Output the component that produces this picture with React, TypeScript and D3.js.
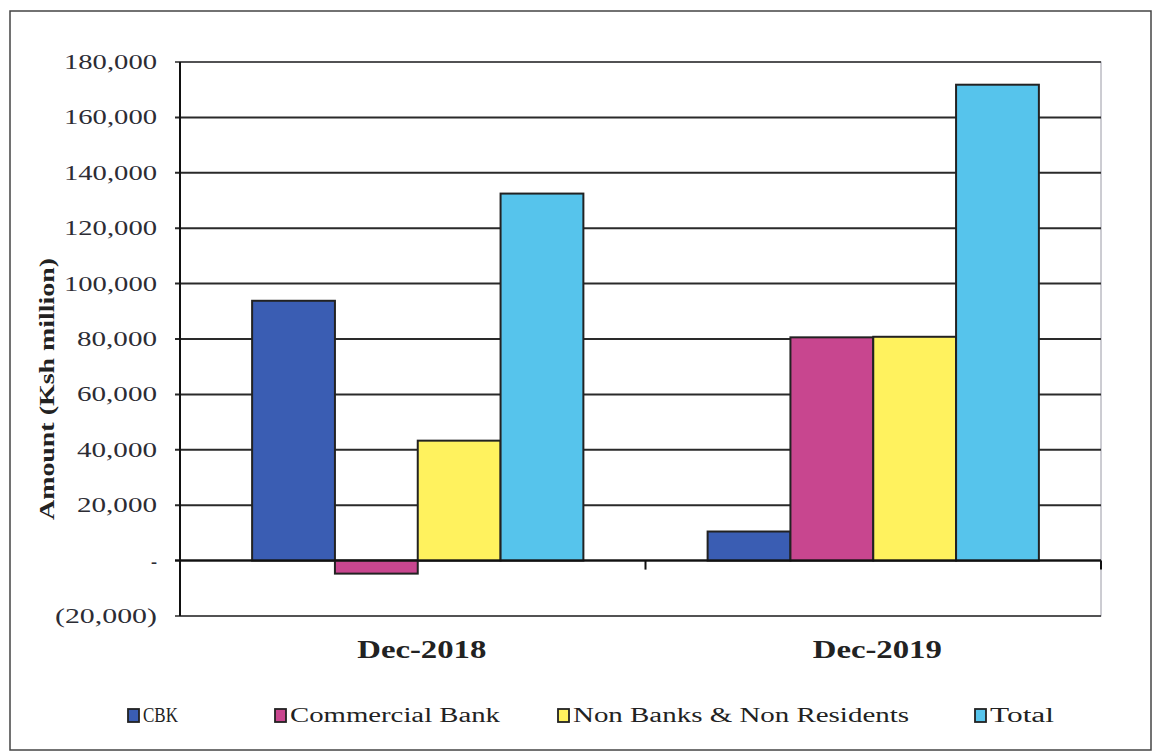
import React from "react";
import * as d3 from "d3";

const categories = ["Dec-2018", "Dec-2019"];
const seriesNames = ["CBK", "Commercial Bank", "Non Banks & Non Residents", "Total"];
const cbk = [93800, 10500];
const commercialBank = [-4700, 80600];
const nonBanks = [43300, 80800];
const total = [132500, 171800];
const yTicks = [-20000, 0, 20000, 40000, 60000, 80000, 100000, 120000, 140000, 160000, 180000];
const seriesColors = ["#3a5db3", "#c8468f", "#fff25e", "#56c4ec"];

const seriesValues = [cbk, commercialBank, nonBanks, total];

const W = 1155;
const H = 754;
const left = 180;
const right = 1101;
const top = 62;
const bottom = 616;

const fmt = (v: number) => {
  if (v === 0) return "-";
  const s = d3.format(",")(Math.abs(v));
  return v < 0 ? `(${s})` : s;
};

export default function App() {
  const y = d3.scaleLinear().domain([-20000, 180000]).range([bottom, top]);
  const x0 = d3.scaleBand<string>().domain(categories).range([190, right]).paddingInner(0).paddingOuter(0);
  const bw = x0.bandwidth();
  const barW = bw / 5.5;
  const x1 = d3
    .scaleBand<string>()
    .domain(seriesNames)
    .range([bw / 2 - 2 * barW, bw / 2 + 2 * barW]);

  const legendX = [128, 275, 558, 975];
  const legendTextW = [35, 210, 336, 64];
  const serif = "'Liberation Serif', 'Times New Roman', serif";

  return (
    <svg
      width={W}
      height={H}
      style={{ position: "absolute", left: 0, top: 0, background: "#fff" }}
      fontFamily={serif}
    >
      <rect x={0} y={0} width={W} height={H} fill="#fff" />
      {/* outer border */}
      <rect x={10} y={11} width={1141} height={739} fill="none" stroke="#444" strokeWidth={1.5} />
      {/* plot border */}
      <rect x={left} y={top} width={right - left} height={bottom - top} fill="none" stroke="#9a9aa6" strokeWidth={1} />
      {/* gridlines */}
      {yTicks.map((t) => (
        <line
          key={"g" + t}
          x1={left - 5}
          x2={right}
          y1={y(t)}
          y2={y(t)}
          stroke="#2a2a2a"
          strokeWidth={t === -20000 || t === 180000 ? 1.5 : 2}
        />
      ))}
      {/* bars */}
      {categories.map((c, ci) => (
        <g key={c} transform={`translate(${x0(c)},0)`}>
          {seriesNames.map((s, si) => {
            const v = seriesValues[si][ci];
            const y0 = y(Math.max(0, v));
            const h = Math.abs(y(v) - y(0));
            return (
              <rect
                key={s}
                x={x1(s)}
                y={y0}
                width={x1.bandwidth()}
                height={h}
                fill={seriesColors[si]}
                stroke="#222"
                strokeWidth={2}
              />
            );
          })}
        </g>
      ))}
      {/* zero line */}
      <line x1={left - 5} x2={right} y1={y(0)} y2={y(0)} stroke="#111" strokeWidth={2} />
      {/* category ticks */}
      {categories.slice(1).map((c) => (
        <line key={"t" + c} x1={x0(c)} x2={x0(c)} y1={y(0)} y2={y(0) + 9} stroke="#111" strokeWidth={2} />
      ))}
      <line x1={right} x2={right} y1={y(0)} y2={y(0) + 9} stroke="#111" strokeWidth={2} />
      {/* y axis */}
      <line x1={left} x2={left} y1={top} y2={bottom} stroke="#111" strokeWidth={2} />
      {/* y tick labels */}
      {yTicks.map((t) => {
        const label = fmt(t);
        const w = t === 0 ? 6 : t < 0 ? 102 : label.length === 7 ? 93 : 80;
        return (
          <text
            key={"l" + t}
            x={157}
            y={y(t) + 7}
            textAnchor="end"
            fontSize={22}
            fill="#2c2c34"
            textLength={w}
            lengthAdjust="spacingAndGlyphs"
          >
            {label}
          </text>
        );
      })}
      {/* y axis title */}
      <text
        transform={`translate(54, ${389}) rotate(-90)`}
        textAnchor="middle"
        fontSize={21}
        fontWeight="bold"
        fill="#222"
        textLength={262}
        lengthAdjust="spacingAndGlyphs"
      >
        Amount (Ksh million)
      </text>
      {/* category labels */}
      {categories.map((c) => (
        <text
          key={"c" + c}
          x={(x0(c) as number) + bw / 2 + 4}
          y={658}
          textAnchor="middle"
          fontSize={26}
          fontWeight="bold"
          fill="#222"
          textLength={129}
          lengthAdjust="spacingAndGlyphs"
        >
          {c}
        </text>
      ))}
      {/* legend */}
      {seriesNames.map((s, i) => (
        <g key={"lg" + s}>
          <rect x={legendX[i]} y={709} width={11} height={13} fill={seriesColors[i]} stroke="#222" strokeWidth={1.8} />
          <text
            x={legendX[i] + 15}
            y={722}
            fontSize={20}
            fill="#222"
            textLength={legendTextW[i]}
            lengthAdjust="spacingAndGlyphs"
          >
            {s}
          </text>
        </g>
      ))}
    </svg>
  );
}
